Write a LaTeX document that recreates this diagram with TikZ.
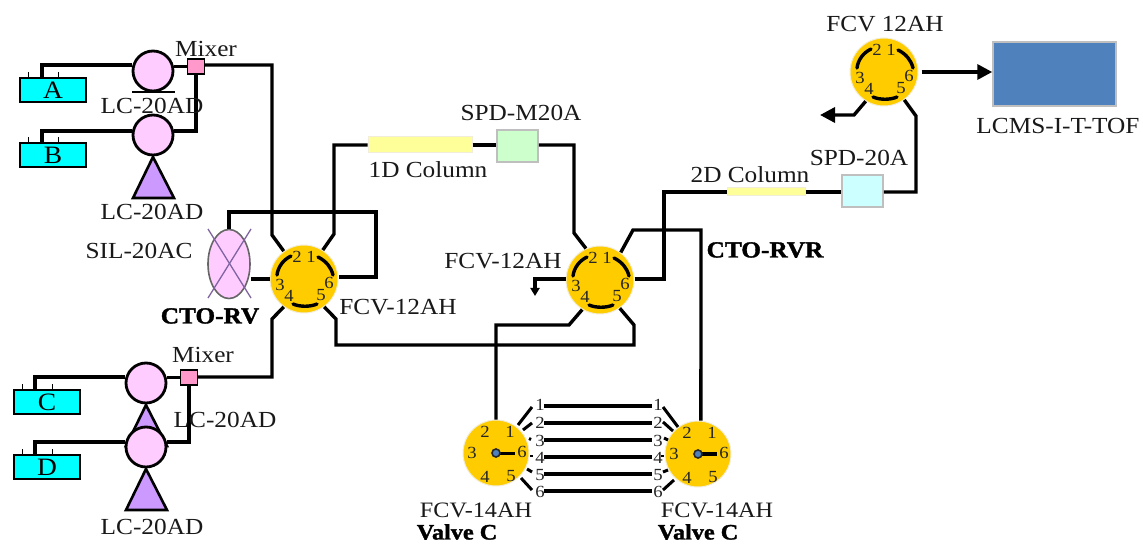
\documentclass[tikz,border=0pt]{standalone}
\usepackage{fontspec}
\setmainfont[FakeStretch=1.1,BoldFeatures={FakeBold=1.5}]{Liberation Serif}
\usetikzlibrary{arrows.meta,shapes.geometric}
\definecolor{vgold}{HTML}{FFCC00}
\definecolor{vedge}{HTML}{F2EDD8}
\definecolor{pumppink}{HTML}{FFCCFF}
\definecolor{tripurple}{HTML}{CC99FF}
\definecolor{mixpink}{HTML}{FF99CC}
\definecolor{bottle}{HTML}{00FFFF}
\definecolor{colyellow}{HTML}{FFFF99}
\definecolor{boxgrey}{HTML}{BFBFBF}
\definecolor{msblue}{HTML}{4F81BD}
\definecolor{xpurple}{HTML}{8064A2}
\definecolor{dgreen}{HTML}{CCFFCC}
\definecolor{dcyan}{HTML}{CCFFFF}
\tikzset{
  lbl/.style={font=\fontsize{23}{25}\selectfont,inner sep=0pt,text=black!90},
  blbl/.style={font=\fontsize{23}{25}\selectfont\bfseries,inner sep=0pt},
  num/.style={font=\fontsize{17}{18}\selectfont,inner sep=0pt,text=black!85},
  pipe/.style={line width=3.4pt,line join=miter},
  valve/.style={circle,fill=vgold,draw=vedge,line width=1pt,minimum size=68pt,inner sep=0pt},
  pump/.style={circle,fill=pumppink,draw=black,line width=2.8pt,minimum size=40pt,inner sep=0pt},
  tank/.style={rectangle,fill=bottle,draw=black,line width=1.8pt,minimum width=66pt,minimum height=24pt,inner sep=0pt,font=\fontsize{25}{26}\selectfont},
  mixbox/.style={rectangle,fill=mixpink,draw=black,line width=1.4pt,minimum width=17pt,minimum height=15pt,inner sep=0pt},
  tri/.style={fill=tripurple,draw=black,line width=2.6pt,line join=miter},
  tick/.style={line width=1pt},
  detector/.style={rectangle,draw=boxgrey,line width=1.5pt,inner sep=0pt},
  column/.style={rectangle,fill=colyellow,draw=vedge,line width=1pt,inner sep=0pt},
  bigtip/.style={-{Triangle[length=15pt,width=15pt]}},
  midtip/.style={-{Triangle[length=8pt,width=9pt]}}
}
\newcommand{\sixport}[3]{%
  \node[valve] (#1) at (#2,#3) {};
  \node[num] (#1n1) at (#2+7,#3-22) {1};
  \node[num] (#1n2) at (#2-7,#3-22) {2};
  \node[num] (#1n3) at (#2-24,#3+6) {3};
  \node[num] (#1n4) at (#2-15,#3+17) {4};
  \node[num] (#1n5) at (#2+17,#3+16) {5};
  \node[num] (#1n6) at (#2+25,#3+4) {6};
  \draw[pipe,line cap=round] (#2-13,#3-23) .. controls (#2-21,#3-19) and (#2-26,#3-12) .. (#2-27,#3-4);
  \draw[pipe,line cap=round] (#2+14,#3-22) .. controls (#2+22,#3-18) and (#2+27,#3-12) .. (#2+29,#3-4);
  \draw[pipe,line cap=round] (#2-11,#3+25) .. controls (#2-4,#3+28) and (#2+6,#3+28) .. (#2+13,#3+25);
}
\newcommand{\clockvalve}[4]{%
  \node[valve,minimum size=66pt] (#1) at (#2,#3) {};
  \node[num] (#1n1) at (#2+14,#3-21) {1};
  \node[num] (#1n2) at (#2-11,#3-21) {2};
  \node[num] (#1n3) at (#2-24,#3) {3};
  \node[num] (#1n4) at (#2-11,#3+24) {4};
  \node[num] (#1n5) at (#2+15,#3+23) {5};
  \node[num] (#1n6) at (#2+26,#3-1) {6};
  \draw[line width=#4] (#2,#3) -- (#2+19,#3);
  \draw[fill=msblue,draw=black!85,line width=1.6pt] (#2,#3) circle (4pt);
}
\begin{document}
\begin{tikzpicture}[x=1pt,y=-1pt]
\useasboundingbox (0,0) rectangle (1143,545);
\fill[white] (0,0) rectangle (1143,545);

% valves
\sixport{vone}{304}{279}
\sixport{vtwo}{600}{280}
\sixport{vthree}{884}{72}
\clockvalve{vfour}{496}{453}{3pt}
\clockvalve{vfive}{698}{454}{4pt}

% tanks
\foreach \n/\x/\y/\t in {tA/53/90/A,tB/53/155/B,tC/47/402/C,tD/47/467/D}{
  \node[tank] (\n) at (\x,\y) {\t};
  \draw[tick] (\x-25,\y-12) -- (\x-25,\y-18);
  \draw[tick] (\x+5,\y-12) -- (\x+5,\y-18);
}

% triangles (behind the pumps)
\draw[tri] (153,157) -- (133,198) -- (174,198) -- cycle;
\draw[tri] (146,405) -- (126,446) -- (167,446) -- cycle;
\draw[tri] (146,469) -- (126,510) -- (167,510) -- cycle;

% pumps and mixers
\node[pump] (pA) at (153,71) {};
\node[pump] (pB) at (153,135) {};
\node[pump] (pC) at (146,383) {};
\node[pump] (pD) at (146,447) {};
\draw[line width=2.4pt] (132,92) -- (175,92);
\node[mixbox] (mA) at (196,66.5) {};
\node[mixbox] (mB) at (189,377.5) {};

% sampler
\node[ellipse,fill=pumppink,draw=black!60,line width=1.6pt,minimum width=42pt,minimum height=69pt,inner sep=0pt] (sil) at (229,264) {};
\draw[xpurple,line width=1.3pt] (208,229) -- (251,298);
\draw[xpurple,line width=1.3pt] (251,229) -- (208,298);

% columns, detectors, MS
\node[column,minimum width=104pt,minimum height=16pt] (cone) at (420,145) {};
\node[column,minimum width=78pt,minimum height=8pt] (ctwo) at (766,192) {};
\node[detector,fill=dgreen,minimum width=41pt,minimum height=32pt] (dm) at (517.5,146) {};
\node[detector,fill=dcyan,minimum width=41pt,minimum height=32pt] (dtwo) at (862.5,191) {};
\node[detector,fill=msblue,minimum width=123pt,minimum height=64pt] (ms) at (1054.5,74) {};

% solvent lines
\coordinate (aUp) at (42,65);
\coordinate (bUp) at (42,131);
\coordinate (cUp) at (35,377);
\coordinate (dUp) at (35,442);
\draw[pipe] (tA.north -| aUp) -- (aUp) -- (pA.west |- aUp);
\draw[pipe] (tB.north -| bUp) -- (bUp) -- (pB.west |- bUp);
\draw[pipe] (tC.north -| cUp) -- (cUp) -- (pC.west |- cUp);
\draw[pipe] (tD.north -| dUp) -- (dUp) -- (pD.west |- dUp);
\draw[pipe] (pA.east |- mA) -- (mA.west);
\coordinate (bJoin) at (196,131);
\coordinate (dJoin) at (189,442);
\draw[pipe] (mA.south) -- (bJoin) -- (pB.east |- bJoin);
\draw[pipe] (pC.east |- mB) -- (mB.west);
\draw[pipe] (mB.south) -- (dJoin) -- (pD.east |- dJoin);

% main valve plumbing
\coordinate (a1) at (272,65);
\coordinate (a2) at (272,235);
\draw[pipe] (mA.east |- a1) -- (a1) -- (a2) -- (vone.126);
\coordinate (b1) at (272,377);
\coordinate (b2) at (272,319);
\draw[pipe] (mB.east |- b1) -- (b1) -- (b2) -- (vone.234);
\coordinate (c1) at (334,145);
\coordinate (c2) at (334,234);
\draw[pipe] (cone.west) -- (c1) -- (c2) -- (vone.57);
\draw[pipe] (cone.east) -- (dm.west |- cone.east);
\coordinate (d1) at (574,145);
\coordinate (d2) at (574,233);
\draw[pipe] (dm.east |- d1) -- (d1) -- (d2) -- (vtwo.114);
\coordinate (e1) at (229,212);
\coordinate (e2) at (376,212);
\coordinate (e3) at (376,277);
\draw[pipe] (sil.north) -- (e1) -- (e2) -- (e3) -- (vone.east |- e3);
\draw[pipe] (sil.east |- vone.west) -- (vone.west);
\coordinate (f1) at (336,319);
\coordinate (f2) at (336,345);
\coordinate (f3) at (634,345);
\coordinate (f4) at (634,325);
\draw[pipe] (vone.306) -- (f1) -- (f2) -- (f3) -- (f4) -- (vtwo.305);
\coordinate (g1) at (569,325);
\coordinate (g2) at (496,325);
\draw[pipe] (vtwo.239) -- (g1) -- (g2) -- (vfour.north);
\coordinate (h1) at (633,230);
\coordinate (h2) at (701,230);
\draw[pipe] (vtwo.53) -- (h1) -- (h2) -- (vfive.85);
\coordinate (i1) at (664,279);
\coordinate (i2) at (664,192);
\draw[pipe] (vtwo.east |- i1) -- (i1) -- (i2) -- (ctwo.west);
\draw[pipe] (ctwo.east) -- (dtwo.west |- ctwo.east);
\coordinate (j1) at (916,192);
\coordinate (j2) at (916,116);
\draw[pipe] (dtwo.east |- j1) -- (j1) -- (j2) -- (vthree.306);
\draw[pipe,bigtip,shorten <=3pt] (vthree.east) -- (ms.west |- vthree.east);
\coordinate (k1) at (854,115);
\coordinate (k2) at (820,115);
\draw[pipe,bigtip] (vthree.238) -- (k1) -- (k2);
\coordinate (w1) at (535,279);
\coordinate (w2) at (535,296);
\draw[pipe,midtip] (vtwo.west |- w1) -- (w1) -- (w2);

% loop numbers
\foreach \i/\y in {1/405,2/423,3/441,4/458,5/475,6/492}{
  \node[num] (ln\i) at (540,\y) {\i};
  \node[num] (rn\i) at (658,\y) {\i};
}
\foreach \i/\y in {1/406,2/423,3/440,4/457,5/474,6/491}{
  \coordinate (lp\i) at (544,\y);
  \coordinate (rp\i) at (652,\y);
  \draw[line width=3.4pt] (lp\i) -- (rp\i);
}
% stubs between valves and loop numbers
\foreach \n/\xa/\ya/\xb/\yb in {
 s1/518/425/532/407, s2/523/430/532/423, s3/529/438.5/531/439.5, s4/531.5/455/531.5/457,
 s5/527/469/532/472, s6/521/478/532/490,
 t1/663/407/678/427, t2/663/422/673/431, t3/664/438/668/440, t4/662/455/662/457,
 t5/663/472/668/470, t6/663/490/674/480}{
  \coordinate (\n a) at (\xa,\ya);
  \coordinate (\n b) at (\xb,\yb);
  \draw[line width=3pt] (\n a) -- (\n b);
}

% labels
\node[lbl] (tMixA) at (206,49) {Mixer};
\node[lbl] (tMixB) at (203,355) {Mixer};
\node[lbl] (tLc1) at (152,106) {LC-20AD};
\node[lbl] (tLc2) at (152,212) {LC-20AD};
\node[lbl] (tLc3) at (225,420) {LC-20AD};
\node[lbl] (tLc4) at (152,527) {LC-20AD};
\node[lbl] (tSil) at (139,251) {SIL-20AC};
\node[blbl] (tCto) at (210,316) {CTO-RV};
\node[lbl] (tF1) at (398,307) {FCV-12AH};
\node[lbl] (tCol1) at (428,170) {1D Column};
\node[lbl] (tSpdm) at (521,113) {SPD-M20A};
\node[lbl] (tF2) at (503,261) {FCV-12AH};
\node[blbl] (tCtor) at (765,250) {CTO-RVR};
\node[lbl] (tCol2) at (750,175) {2D Column};
\node[lbl] (tSpd) at (859,158) {SPD-20A};
\node[lbl] (tF3) at (885,24) {FCV 12AH};
\node[lbl] (tMs) at (1058,126) {LCMS-I-T-TOF};
\node[lbl,font=\fontsize{22}{24}\selectfont] (tF4) at (476,510.5) {FCV-14AH};
\node[lbl,font=\fontsize{22}{24}\selectfont] (tF5) at (717,510.5) {FCV-14AH};
\node[blbl,font=\fontsize{22}{24}\selectfont\bfseries] (tVa) at (457,532) {Valve C};
\node[blbl,font=\fontsize{22}{24}\selectfont\bfseries] (tVb) at (698,532) {Valve C};
\end{tikzpicture}
\end{document}
